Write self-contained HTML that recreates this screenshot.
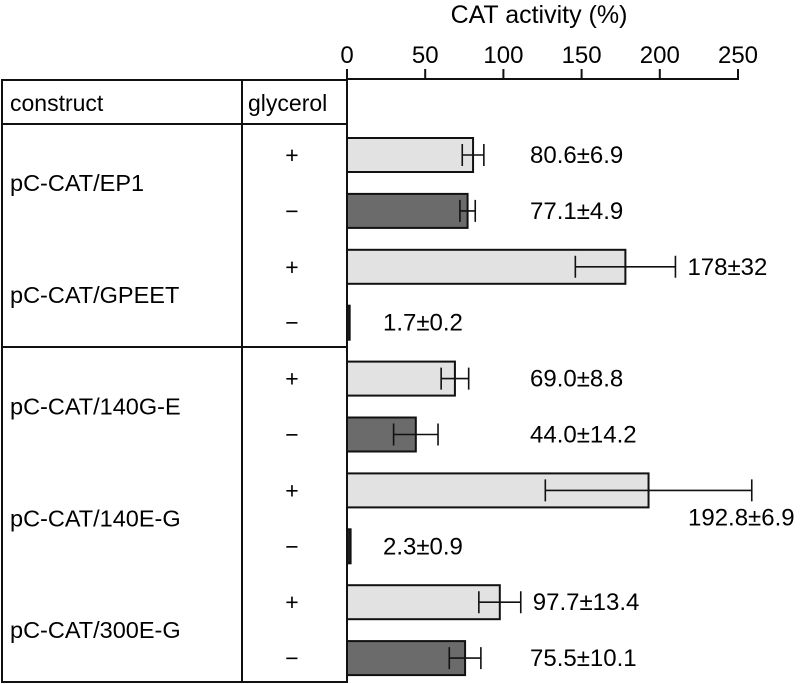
<!DOCTYPE html>
<html><head><meta charset="utf-8"><style>
html,body{margin:0;padding:0;background:#fff;}
svg{display:block;font-family:"Liberation Sans",Arial,sans-serif;}
</style></head><body>
<svg id="chart" width="800" height="684" viewBox="0 0 800 684">
<g id="table" stroke="#111" stroke-width="2" fill="none">
<rect x="2" y="80" width="345" height="602"/>
<line x1="242" y1="80" x2="242" y2="682"/>
<line x1="2" y1="124" x2="347" y2="124"/>
<line x1="2" y1="347" x2="347" y2="347"/>
</g>
<text x="10" y="111" font-size="23">construct</text>
<text x="248" y="111" font-size="23">glycerol</text>
<text x="539" y="23" font-size="25" text-anchor="middle">CAT activity (%)</text>
<g id="axis"></g>
<g id="rows"></g>
</svg>
<script>
const ticks=[0,50,100,150,200,250];
const constructs=["pC-CAT/EP1","pC-CAT/GPEET","pC-CAT/140G-E","pC-CAT/140E-G","pC-CAT/300E-G"];
const glycerol=["+","−","+","−","+","−","+","−","+","−"];
const values=[80.6,77.1,178,1.7,69.0,44.0,192.8,2.3,97.7,75.5];
const errors=[6.9,4.9,32,0.2,8.8,14.2,66,0.9,13.4,10.1];
const labels=["80.6±6.9","77.1±4.9","178±32","1.7±0.2","69.0±8.8","44.0±14.2","192.8±6.9","2.3±0.9","97.7±13.4","75.5±10.1"];
const NS="http://www.w3.org/2000/svg";
const x0=347,x1=738;
const xs=v=>x0+(v/250)*(x1-x0);
const rowY=i=>155+i*55.9;
function mk(t,a,p){const e=document.createElementNS(NS,t);for(const k in a)e.setAttribute(k,a[k]);p.appendChild(e);return e;}
const ax=document.getElementById('axis');
mk('line',{x1:x0,y1:79,x2:x1,y2:79,stroke:'#111','stroke-width':2},ax);
ticks.forEach(t=>{
 const l=mk('line',{x1:xs(t),y1:69,x2:xs(t),y2:80,stroke:'#111','stroke-width':2},ax);
 
 
 const tx=mk('text',{x:xs(t),y:63,'font-size':24,'text-anchor':'middle'},ax);
 tx.textContent=t;
 
 
});
const rows=document.getElementById('rows');
constructs.forEach((c,g)=>{
 const t=mk('text',{x:10,y:(rowY(2*g)+rowY(2*g+1))/2+8,'font-size':23.5},rows);
 t.textContent=c;
 
 
});
values.forEach((v,i)=>{
 const y=rowY(i);
 const light=i%2===0;
 const s=mk('text',{x:292,y:y+8,'font-size':23,'text-anchor':'middle'},rows);
 s.textContent=glycerol[i];
 
 
 const b=mk('rect',{x:x0,y:y-17,width:Math.max(xs(v)-x0,2),height:34,fill:light?'#e2e2e2':(v<5?'#222':'#6b6b6b'),stroke:'#111','stroke-width':2},rows);
 
 
 if(v>5){
  const lo=xs(v-errors[i]),hi=xs(v+errors[i]);
  const e=mk('path',{d:`M${lo},${y}H${hi}M${lo},${y-11}V${y+11}M${hi},${y-11}V${y+11}`,stroke:'#111','stroke-width':1.6,fill:'none'},rows);
  
  
 }
 let lx=530,ly=y+8;
 if(v<5)lx=383;
 else if(xs(v+errors[i])>520&&v<185){lx=xs(v+errors[i])+12;}
 else if(xs(v+errors[i])>520){lx=688;ly=y+35;}
 const lt=mk('text',{x:lx,y:ly,'font-size':24},rows);
 lt.textContent=labels[i];
 
 
});
</script>
</body></html>
